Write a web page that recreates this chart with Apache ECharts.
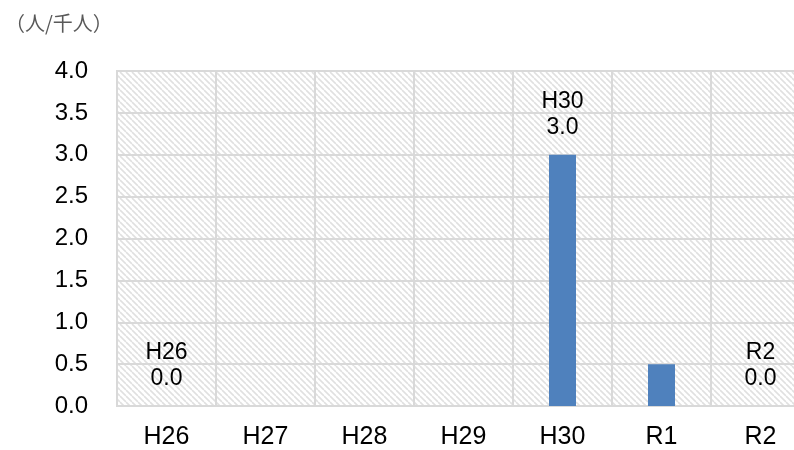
<!DOCTYPE html>
<html>
<head>
<meta charset="utf-8">
<script src="https://cdn.jsdelivr.net/npm/echarts@6/dist/echarts.min.js"></script>
<style>
html,body{margin:0;padding:0;background:#fff;}
#main{width:794px;height:450px;}
</style>
</head>
<body>
<div id="main"></div>
<script>
const categories = ['H26', 'H27', 'H28', 'H29', 'H30', 'R1', 'R2'];
const values = [0.0, 0.0, 0.0, 0.0, 3.0, 0.5, 0.0];
const labeledCategories = ['H26', 'H30', 'R2'];
const unitText = '（人/千人）';

// hatch pattern for plot background
const pc = document.createElement('canvas');
const s = 6;
pc.width = s; pc.height = s;
const ctx = pc.getContext('2d');
ctx.fillStyle = '#ffffff';
ctx.fillRect(0, 0, s, s);
ctx.strokeStyle = '#e0e0e0';
ctx.lineWidth = 1.6;
for (const off of [-s, 0, s]) {
  ctx.beginPath();
  ctx.moveTo(off, 0);
  ctx.lineTo(off + s, s);
  ctx.stroke();
}

const FONT = '"Liberation Sans", Arial, sans-serif';
const chart = echarts.init(document.getElementById('main'), null, {renderer: 'canvas'});

const seriesData = values.map((v, i) => ({
  value: v,
  label: { show: labeledCategories.includes(categories[i]) }
}));

chart.setOption({
  animation: false,
  title: {
    text: unitText,
    left: 0, top: 8,
    textStyle: { fontSize: 20, fontWeight: 'normal', color: '#595959', fontFamily: '"Noto Sans CJK JP", sans-serif' }
  },
  grid: {
    left: 117, top: 71, width: 693, height: 335,
    outerBoundsMode: 'none',
    containLabel: false,
    show: true,
    backgroundColor: { image: pc, repeat: 'repeat' },
    borderColor: '#d9d9d9', borderWidth: 2
  },
  xAxis: {
    type: 'category',
    data: categories,
    axisLine: { show: true, lineStyle: { color: '#d9d9d9', width: 2 } },
    axisTick: { show: false },
    splitLine: { show: true, lineStyle: { color: '#d9d9d9', width: 2 } },
    axisLabel: { color: '#000', fontSize: 25, fontFamily: FONT, margin: 19 }
  },
  yAxis: {
    type: 'value',
    min: 0, max: 4, interval: 0.5,
    axisLine: { show: false },
    axisTick: { show: false },
    splitLine: { show: true, lineStyle: { color: '#d9d9d9', width: 2 } },
    axisLabel: { color: '#000', fontSize: 24, fontFamily: FONT, margin: 29,
      formatter: v => v.toFixed(1) }
  },
  series: [{
    type: 'bar',
    data: seriesData,
    barWidth: 27,
    itemStyle: { color: '#4f81bd' },
    label: {
      show: false,
      position: 'top',
      distance: 14,
      color: '#000',
      fontSize: 23,
      lineHeight: 26,
      fontFamily: FONT,
      align: 'center',
      formatter: p => p.name + '\n' + Number(p.value).toFixed(1)
    }
  }]
});
</script>
</body>
</html>
